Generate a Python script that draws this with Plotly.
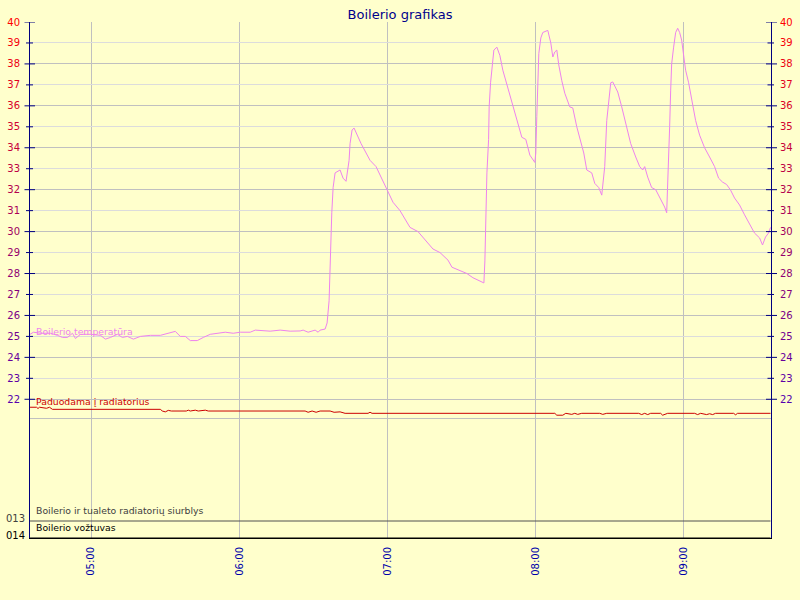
import plotly.graph_objects as go

DAY = "2024-01-01 "

# ---------------- data ----------------
temp_times = [
    "04:35:16", "04:36:40", "04:39:30", "04:43:33", "04:46:23", "04:48:24", "04:50:25", "04:52:27", "04:53:39", "04:55:40",
    "04:59:43", "05:03:46", "05:05:47", "05:07:48", "05:10:38", "05:12:39", "05:14:41", "05:17:06", "05:19:56", "05:23:59",
    "05:28:01", "05:30:51", "05:34:05", "05:36:06", "05:38:08", "05:40:09", "05:42:59", "05:45:24", "05:48:14", "05:54:18",
    "05:57:32", "06:00:22", "06:04:24", "06:06:26", "06:12:29", "06:16:32", "06:20:35", "06:24:37", "06:25:50", "06:27:51",
    "06:30:41", "06:31:54", "06:32:42", "06:34:44", "06:35:32", "06:36:20", "06:36:45", "06:37:26", "06:37:58", "06:38:46",
    "06:40:47", "06:42:00", "06:43:12", "06:44:26", "06:44:50", "06:45:39", "06:46:27", "06:49:17", "06:52:55", "06:55:21",
    "06:59:48", "07:02:13", "07:05:03", "07:07:29", "07:09:06", "07:12:20", "07:15:58", "07:18:24", "07:21:14", "07:24:28",
    "07:26:05", "07:28:30", "07:32:08", "07:34:34", "07:36:35", "07:39:01", "07:39:25", "07:39:49", "07:40:14", "07:40:55",
    "07:41:09", "07:41:43", "07:42:14", "07:43:03", "07:44:16", "07:45:29", "07:46:41", "07:48:19", "07:49:56", "07:51:08",
    "07:52:46", "07:54:22", "07:55:59", "07:57:37", "07:59:38", "08:00:02", "08:00:26", "08:00:51", "08:01:15", "08:02:04",
    "08:02:52", "08:04:53", "08:06:06", "08:06:55", "08:07:43", "08:08:32", "08:09:20", "08:10:33", "08:11:46", "08:13:47",
    "08:15:00", "08:16:37", "08:17:50", "08:19:27", "08:20:40", "08:22:41", "08:23:54", "08:25:31", "08:26:44", "08:27:56",
    "08:28:45", "08:29:34", "08:30:22", "08:31:11", "08:33:12", "08:34:49", "08:36:26", "08:38:27", "08:40:29", "08:42:06",
    "08:43:18", "08:44:07", "08:45:20", "08:46:56", "08:48:34", "08:50:11", "08:52:12", "08:53:01", "08:53:25", "08:53:49",
    "08:54:13", "08:54:38", "08:55:02", "08:55:50", "08:56:39", "08:57:28", "08:58:16", "08:59:04", "08:59:53", "09:00:41",
    "09:01:54", "09:03:07", "09:04:44", "09:06:21", "09:08:22", "09:10:23", "09:12:25", "09:14:02", "09:15:39", "09:17:16",
    "09:18:53", "09:20:30", "09:22:31", "09:24:33", "09:26:34", "09:28:35", "09:30:37", "09:31:49", "09:33:02", "09:34:15", "09:35:03",
]
temp_values = [
    25.10, 25.20, 25.15, 25.15, 25.05, 24.95, 24.95, 25.15, 24.90, 25.10,
    25.10, 25.05, 24.87, 24.95, 25.10, 24.95, 25.00, 24.87, 25.00, 25.05,
    25.05, 25.15, 25.24, 25.00, 25.00, 24.80, 24.80, 24.95, 25.10, 25.20,
    25.15, 25.20, 25.20, 25.30, 25.25, 25.30, 25.25, 25.26, 25.30, 25.20,
    25.30, 25.20, 25.30, 25.35, 25.64, 26.70, 28.80, 30.90, 32.10, 32.80,
    32.94, 32.55, 32.40, 33.40, 34.20, 34.85, 34.94, 34.20, 33.40, 33.10,
    32.00, 31.40, 31.00, 30.55, 30.20, 30.00, 29.50, 29.17, 29.00, 28.64,
    28.30, 28.17, 28.00, 27.80, 27.70, 27.55, 28.60, 30.90, 32.80, 34.40,
    35.95, 37.10, 37.86, 38.66, 38.80, 38.40, 37.70, 37.00, 36.40, 35.80,
    35.20, 34.50, 34.40, 33.65, 33.30, 33.75, 35.50, 37.20, 38.50, 39.24,
    39.50, 39.60, 39.00, 38.33, 38.57, 38.66, 37.95, 37.20, 36.60, 35.95,
    35.90, 35.00, 34.40, 33.75, 32.94, 32.80, 32.30, 32.10, 31.74, 33.10,
    35.30, 36.30, 37.10, 37.14, 36.66, 35.95, 35.20, 34.20, 33.56, 33.10,
    32.94, 33.10, 32.60, 32.10, 32.00, 31.65, 31.17, 30.90, 32.10, 33.40,
    35.00, 36.75, 38.00, 38.80, 39.50, 39.70, 39.50, 39.14, 38.50, 37.70,
    37.10, 36.30, 35.30, 34.60, 34.00, 33.56, 33.10, 32.55, 32.36, 32.25,
    31.98, 31.60, 31.27, 30.80, 30.40, 29.93, 29.70, 29.36, 29.74, 29.93, 30.20,
]

supply_times = [
    "04:35:16", "04:37:53", "04:38:29", "04:39:06", "04:41:56", "04:43:08", "04:44:21", "05:28:01", "05:28:50", "05:30:02",
    "05:31:15", "05:32:28", "05:38:32", "05:39:20", "05:40:09", "05:42:10", "05:43:23", "05:46:13", "05:47:26", "06:26:38",
    "06:27:51", "06:29:28", "06:31:05", "06:32:42", "06:36:45", "06:38:22", "06:40:47", "06:42:49", "06:52:07", "06:52:55",
    "06:53:44", "08:07:43", "08:08:32", "08:10:57", "08:12:10", "08:13:23", "08:14:35", "08:15:48", "08:17:01", "08:18:38",
    "08:25:55", "08:27:08", "08:28:45", "08:41:41", "08:42:54", "08:44:07", "08:45:20", "08:46:32", "08:50:35", "08:51:23",
    "08:53:25", "09:04:20", "09:05:32", "09:06:46", "09:09:11", "09:10:23", "09:11:37", "09:12:49", "09:20:06", "09:20:55",
    "09:21:43", "09:35:03",
]
supply_values = [
    21.62, 21.62, 21.56, 21.62, 21.57, 21.62, 21.52, 21.52, 21.44, 21.40,
    21.47, 21.44, 21.44, 21.48, 21.44, 21.48, 21.44, 21.48, 21.44, 21.44,
    21.38, 21.44, 21.38, 21.44, 21.44, 21.38, 21.40, 21.33, 21.33, 21.38,
    21.33, 21.33, 21.24, 21.24, 21.33, 21.30, 21.28, 21.33, 21.28, 21.33,
    21.33, 21.28, 21.33, 21.33, 21.27, 21.33, 21.27, 21.33, 21.33, 21.24,
    21.33, 21.33, 21.27, 21.33, 21.27, 21.31, 21.27, 21.33, 21.33, 21.26,
    21.33, 21.33,
]

digital_times = ["04:35:16", "09:35:03"]
pump_values = [0, 0]     # 013
valve_values = [0, 0]    # 014

y_ticks = list(range(22, 41))
x_range = ["04:35:15", "09:35:15"]

series_names = ["Boilerio temperatūra", "Paduodama į radiatorius",
                "Boilerio ir tualeto radiatorių siurblys", "Boilerio vožtuvas"]
channel_labels = ["013", "014"]

# ---------------- style ----------------
BG = "#FFFFCC"
NAVY = "#000080"
VIOLET = "#EE82EE"
DARKRED = "#CC0000"
GRID_DARK = "#C0C0C0"
GRID_LIGHT = "#DCDCDC"
FONT = "DejaVu Sans"

W, H = 800, 600
ML, MR, MT, MB = 30, 29, 22, 62
PW, PH = W - ML - MR, H - MT - MB
Y_TOP = 40
PX_PER_UNIT = 20.96
Y_BOTTOM = Y_TOP - PH / PX_PER_UNIT
PANEL_FLOOR = Y_TOP - (418 - MT) / PX_PER_UNIT
CH_ROW = 17  # pixel height of one digital channel row


def px_x(x):
    return (x - ML) / PW


def px_y(y):
    return (H - MB - y) / PH


def tick_color(v):
    t = (Y_TOP - v) / (Y_TOP - 22)
    r = int(round(255 - t * 170))
    b = int(round(t * 175))
    return f"rgb({r},0,{b})"


tick_text = [f'<span style="color:{tick_color(v)}">{v}</span>' for v in y_ticks]

full = lambda ts: [DAY + t for t in ts]

fig = go.Figure()
for ax in ["y5", "y6", "y4"]:
    fig.add_trace(go.Scatter(x=[], y=[], yaxis=ax, showlegend=False, hoverinfo="skip"))
fig.add_trace(go.Scatter(x=full(digital_times), y=pump_values, mode="lines",
                         line=dict(color="#505050", width=1), yaxis="y2",
                         name=series_names[2], hoverinfo="skip"))
fig.add_trace(go.Scatter(x=full(digital_times), y=valve_values, mode="lines",
                         line=dict(color="#000000", width=1), yaxis="y3",
                         name=series_names[3], hoverinfo="skip"))
fig.add_trace(go.Scatter(x=full(supply_times), y=supply_values, mode="lines",
                         line=dict(color=DARKRED, width=1), yaxis="y",
                         name=series_names[1], hoverinfo="skip"))
fig.add_trace(go.Scatter(x=full(temp_times), y=temp_values, mode="lines",
                         line=dict(color=VIOLET, width=1), yaxis="y",
                         name=series_names[0], hoverinfo="skip"))

shapes = []
for v in y_ticks:
    major = (v % 2 == 0)
    lx0, lx1 = (24.5, 35) if major else (26, 33)
    rx0, rx1 = (766, 777) if major else (767.5, 774)
    for a, b in [(lx0, lx1), (rx0, rx1)]:
        shapes.append(dict(type="line", xref="paper", yref="y", x0=px_x(a), x1=px_x(b),
                           y0=v, y1=v, line=dict(color=NAVY, width=1), layer="above"))

annotations = [
    dict(text=series_names[0], xref="paper", yref="paper", x=px_x(34), y=px_y(331),
         xanchor="left", yanchor="middle", showarrow=False,
         font=dict(family=FONT, size=9.3, color=VIOLET)),
    dict(text=series_names[1], xref="paper", yref="paper", x=px_x(34), y=px_y(401.5),
         xanchor="left", yanchor="middle", showarrow=False,
         font=dict(family=FONT, size=9.3, color=DARKRED)),
    dict(text=series_names[2], xref="paper", yref="paper", x=px_x(34), y=px_y(510),
         xanchor="left", yanchor="middle", showarrow=False,
         font=dict(family=FONT, size=9.3, color="#404040")),
    dict(text=series_names[3], xref="paper", yref="paper", x=px_x(34), y=px_y(527),
         xanchor="left", yanchor="middle", showarrow=False,
         font=dict(family=FONT, size=9.3, color="#000000")),
    dict(text=channel_labels[0], xref="paper", yref="paper", x=px_x(26.5), y=px_y(518),
         xanchor="right", yanchor="middle", showarrow=False,
         font=dict(family=FONT, size=10, color="#404040")),
    dict(text=channel_labels[1], xref="paper", yref="paper", x=px_x(26.5), y=px_y(535.5),
         xanchor="right", yanchor="middle", showarrow=False,
         font=dict(family=FONT, size=10, color="#000000")),
]

yrange = [Y_BOTTOM, Y_TOP]
fig.update_layout(
    width=W, height=H,
    margin=dict(l=ML, r=MR, t=MT, b=MB, pad=0, autoexpand=False),
    paper_bgcolor=BG, plot_bgcolor=BG,
    showlegend=False,
    title=dict(text="Boilerio grafikas", x=0.5, xanchor="center", xref="container",
               y=1 - 14.5 / H, yanchor="middle", yref="container", automargin=False,
               font=dict(family=FONT, size=13, color="#00008B")),
    xaxis=dict(type="date", range=full(x_range), dtick=3600000, tick0=DAY + "05:00",
               tickformat="%H:%M", tickangle=-90, ticks="", ticklabelstandoff=4,
               tickfont=dict(family=FONT, size=10, color="#0000AA"),
               showgrid=True, gridcolor=GRID_DARK, gridwidth=1, automargin=False,
               showline=True, linecolor="#000000", linewidth=1, zeroline=False,
               fixedrange=True),
    yaxis=dict(range=yrange, domain=[0, 1], tickmode="array", tickvals=y_ticks, ticktext=tick_text,
               ticks="", ticklabelstandoff=7, tickfont=dict(family=FONT, size=10), automargin=False,
               showgrid=False, showline=True, linecolor=NAVY, linewidth=1, zeroline=False),
    yaxis2=dict(overlaying="y", range=[-CH_ROW, PH - CH_ROW], visible=False, automargin=False),
    yaxis3=dict(overlaying="y", range=[0, PH], visible=False, automargin=False),
    yaxis4=dict(overlaying="y", side="right", range=yrange, tickmode="array", tickvals=y_ticks,
                ticktext=tick_text, ticks="", ticklabelstandoff=6, tickfont=dict(family=FONT, size=10),
                showgrid=False, showline=True, linecolor=NAVY, linewidth=1, zeroline=False,
                anchor="x", automargin=False),
    yaxis5=dict(overlaying="y", range=yrange, tickmode="array", automargin=False,
                tickvals=[v for v in y_ticks if v % 2 == 1], showticklabels=False, ticks="",
                showgrid=True, gridcolor=GRID_LIGHT, gridwidth=1, showline=False, zeroline=False),
    yaxis6=dict(overlaying="y", range=yrange, tickmode="array", automargin=False,
                tickvals=[v for v in y_ticks if v % 2 == 0] + [PANEL_FLOOR], showticklabels=False, ticks="",
                showgrid=True, gridcolor=GRID_DARK, gridwidth=1, showline=False, zeroline=False),
    shapes=shapes,
    annotations=annotations,
)

fig.write_html("out.html",
               config={"displayModeBar": False, "staticPlot": True},
               post_script="document.body.style.margin='0';document.body.style.background='" + BG + "';")
